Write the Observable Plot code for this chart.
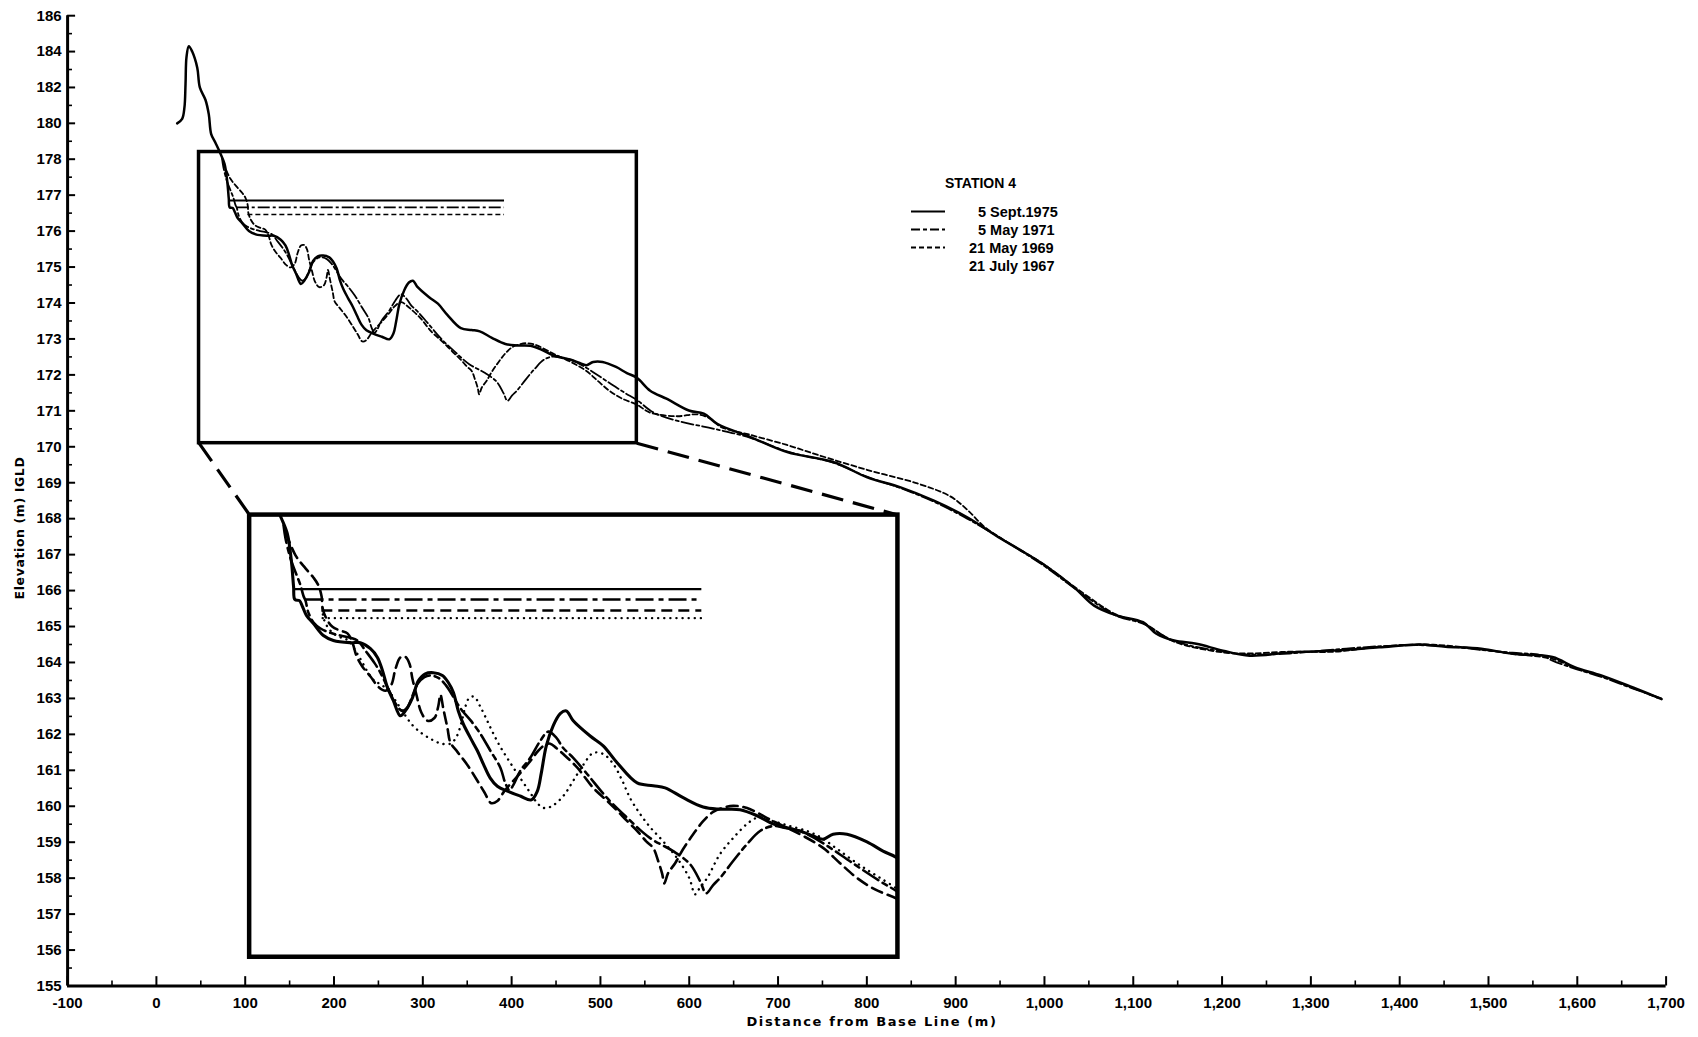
<!DOCTYPE html>
<html><head><meta charset="utf-8">
<script src="https://cdn.jsdelivr.net/npm/d3@7"></script>
<script src="https://cdn.jsdelivr.net/npm/@observablehq/plot@0.6"></script>
<style>
body{margin:0;background:#fff;}
#wrap{position:relative;width:1698px;height:1037px;overflow:hidden;background:#fff;}
#wrap svg{position:absolute;left:0;top:0;}
</style></head><body><div id="wrap"></div>
<script>
// ---------- tick values ----------
const xMajor = [-100,0,100,200,300,400,500,600,700,800,900,1000,1100,1200,1300,1400,1500,1600,1700];
const xMinor = [-50,50,150,250,350,450,550,650,750,850,950,1050,1150,1250,1350,1450,1550,1650];
const yMajor = [155,156,157,158,159,160,161,162,163,164,165,166,167,168,169,170,171,172,173,174,175,176,177,178,180,182,184,186];
const yMinor = [155.5,156.5,157.5,158.5,159.5,160.5,161.5,162.5,163.5,164.5,165.5,166.5,167.5,168.5,169.5,170.5,171.5,172.5,173.5,174.5,175.5,176.5,177.5,179,181,183,185];

// ---------- survey names ----------
const surveys = ["5 Sept.1975","5 May 1971","21 May 1969","21 July 1967"];

// ---------- profiles: [distance (m), elevation (m IGLD)] ----------
const profile1975 = [
 [23.4,180.0],[29,180.25],[31.6,180.9],[32.8,182.2],[33.9,183.7],[36.5,184.3],[40.3,184.0],[46,183.1],[48.9,182.0],[55.3,181.3],[59,180.5],[61.7,179.4],[66.6,178.9],[72.2,178.3],[76.7,177.87],[79.7,177.4],[81.5,176.9],
 [82.5,176.66],[86,176.64],[88.3,176.53],[91.3,176.37],[96.6,176.22],[104.2,176.0],[111.8,175.91],[124.7,175.87],[132.3,175.87],[140,175.76],[145.3,175.6],[149.1,175.36],[152.9,175.05],[157.4,174.81],[162.7,174.53],[166.5,174.62],[171.9,174.86],[176.4,175.17],[181.7,175.3],[187.8,175.32],[194.7,175.27],[199.2,175.14],[203,174.96],[206.8,174.62],[210.6,174.38],[215.9,174.13],[221.3,173.89],[225.8,173.65],[231.1,173.39],[236.5,173.24],[244.1,173.15],[253.9,173.06],[262.3,172.99],[266.9,173.15],[269.9,173.48],[273.7,173.98],[279,174.35],[284.3,174.57],[288.9,174.62],[294.2,174.44],[307.1,174.16],[317,173.98],[327.6,173.67],[342.8,173.3],[355,173.25],[364.1,173.21],[377.8,173.03],[393,172.86],[405.9,172.82],[421.1,172.81],[434,172.7],[446.2,172.55],[456.8,172.48],[466.7,172.42],[476.6,172.33],[484.2,172.27],[491.8,172.36],[502.4,172.36],[517.6,172.22],[529.8,172.05],[541,171.92],
 [556,171.56],[575,171.33],[599.6,171.01],[616.4,170.92],[631.5,170.64],[669,170.27],[710.4,169.85],[762.8,169.57],[800.5,169.15],[838,168.87],[875.5,168.5],[913,168.04],[950.6,167.45],[970.6,167.16],[1000.7,166.7],[1033.3,166.09],[1055.9,165.58],[1081,165.31],[1111,165.12],[1126,164.8],[1146,164.61],[1171,164.52],[1201,164.33],[1231,164.19],[1276.5,164.28],[1326.7,164.33],[1376.8,164.42],[1421.8,164.5],[1451.7,164.44],[1492,164.38],[1527,164.24],[1572,164.15],[1597,163.87],[1627,163.64],[1662,163.31],[1695,162.98]
];
const profile1971 = [
 [73.9,178.04],[75.4,177.78],[79.2,177.41],[83.0,177.16],[86.8,176.92],[89.0,176.73],[90.6,176.64],[92.8,176.42],[96.7,176.24],[102.0,176.13],[109.6,176.05],[117.2,176.0],[124.8,175.96],[130.1,175.91],[136.9,175.7],[143,175.5],[148,175.3],[152,175.1],[156,174.9],[160,174.72],[164,174.62],[168,174.68],[172,174.9],[176,175.12],[181,175.24],[186,175.27],[192,175.22],[197,175.1],[202,174.92],[206.1,174.75],[210.6,174.6],[216,174.45],[223.6,174.2],[231.2,173.89],[238.8,173.58],[242.5,173.3],[245.6,173.17],[248.6,173.26],[253.9,173.52],[261.5,173.76],[269.1,174.07],[275.2,174.24],[281.3,174.13],[286.6,173.94],[294.2,173.76],[304.9,173.46],[320.1,173.02],[335.3,172.66],[352.7,172.29],[370.2,172.05],[383.1,171.81],[390.7,171.5],[395.3,171.28],[400.6,171.43],[405.9,171.56],[415.8,171.87],[426.4,172.18],[436.3,172.42],[446.2,172.51],[456.8,172.47],[466.7,172.42],[481.9,172.23],[497.1,171.99],[512.3,171.74],[527.5,171.5],[541.2,171.3],
 [560,170.95],[587,170.72],[628,170.5],[669,170.25],[710,169.87],[763,169.55],[800,169.17],[838,168.85],[875,168.48],[913,168.0],[951,167.45],[1000,166.68],[1034,166.06],[1081,165.3],[1111,165.08],[1146,164.6],[1201,164.3],[1231,164.22],[1276,164.25],[1327,164.36],[1377,164.45],[1422,164.48],[1452,164.45],[1492,164.35],[1527,164.27],[1560,164.2],[1572,164.05],[1597,163.83],[1627,163.6],[1662,163.28],[1695,163.0]
];
const profile1969 = [
 [75.4,177.89],[83.0,177.47],[90.6,177.23],[96.7,177.06],[100.4,176.92],[102.8,176.72],[103.6,176.5],[106.5,176.31],[111.1,176.16],[117.2,176.09],[122.5,176.04],[126.3,175.87],[129.3,175.63],[133.9,175.43],[140,175.25],[146,175.06],[151.4,174.99],[155.9,175.1],[159,175.39],[162.8,175.6],[166.6,175.61],[169.6,175.49],[171.9,175.21],[174.9,174.92],[178.7,174.59],[183.3,174.44],[188.6,174.49],[191.6,174.71],[193.2,174.92],[195.4,174.66],[198.5,174.31],[200.8,174.04],[206.1,173.87],[213.7,173.63],[221.3,173.34],[226.6,173.13],[231.9,172.93],[236.5,172.97],[241.8,173.15],[247.1,173.3],[253.9,173.48],[261.5,173.7],[267.6,173.89],[272.9,174.0],[276.7,174.02],[281.3,173.94],[286.6,173.83],[297.3,173.58],[309.4,173.21],[320.1,172.97],[327.7,172.79],[335.3,172.6],[342.9,172.42],[349.7,172.23],[355,172.11],[358.8,171.87],[361.9,171.63],[363.4,171.46],[366.4,171.65],[371.7,171.83],[377.8,172.09],[385.4,172.36],[393,172.6],[400.6,172.77],[407.5,172.84],[415.8,172.88],[426.4,172.84],[446.2,172.6],[466.7,172.36],[484.2,172.11],[497.1,171.83],[510,171.56],[523.7,171.35],[541.2,171.17],
 [556,170.95],[586,170.85],[609,170.9],[624,170.78],[635,170.56],[669,170.33],[710,170.05],[744,169.78],[800,169.36],[857,168.98],[894,168.62],[913,168.25],[932,167.78],[951,167.46],[1000,166.72],[1034,166.1],[1081,165.33],[1111,165.1],[1146,164.58],[1201,164.28],[1231,164.25],[1276,164.3],[1327,164.3],[1377,164.44],[1422,164.5],[1452,164.47],[1492,164.36],[1527,164.24],[1572,164.1],[1597,163.85],[1627,163.62],[1662,163.3],[1690,163.02]
];
const profile1967 = [
 [103.5,176.5],[104.2,176.33],[107.3,176.16],[111.8,176.04],[117.9,175.96],[123.2,175.91],[128.6,175.72],[133.1,175.54],[137.7,175.34],[143,175.17],[148.3,175.1],[153.6,174.99],[159,174.81],[165,174.59],[171.9,174.36],[179.5,174.2],[187.1,174.09],[193.9,174.02],[200.8,174.02],[205.3,174.14],[209.1,174.4],[212.2,174.7],[215.2,174.86],[219,174.88],[222.8,174.73],[227.4,174.51],[232.7,174.24],[238.8,173.96],[246.3,173.67],[253.9,173.39],[261.5,173.12],[267.6,172.91],[272.2,172.84],[278.3,172.88],[286.6,173.06],[294.2,173.34],[301.8,173.63],[309.4,173.85],[317,173.83],[324.6,173.65],[331.5,173.34],[337.5,173.02],[345.1,172.73],[352.7,172.49],[362.6,172.23],[373.3,171.92],[382.4,171.56],[386.9,171.26],[390.7,171.39],[396.1,171.56],[405.9,172.0],[415.8,172.29],[426.4,172.55],[434,172.66],[446.2,172.6],[459.1,172.51],[472,172.42],[481.9,172.31],[493.3,172.12],[504.7,171.92],[516.9,171.72],[529,171.54],[541.2,171.35]
];

// ---------- still-water levels at survey time ----------
const levelElev  = [176.85, 176.66, 176.46, 176.32];
const levelStart = [82, 91, 103, 104];
const levelEnd   = [392, 392, 392, 392];

// ---------- enlargement boxes (distance, elevation) ----------
const zoomBoxX  = [48, 541];
const zoomBoxY  = [170.1, 178.4];
const insetBoxX = [105, 835];
const insetBoxY = [155.8, 168.1];

// ---------- styles ----------
const NUMFONT = "'Liberation Sans', Arial, sans-serif";
const mainStyle = [
  {strokeWidth: 2.5},
  {strokeWidth: 1.8, strokeDasharray: "12,3,3,3"},
  {strokeWidth: 1.8, strokeDasharray: "5,3"},
  null
];
const insetStyle = [
  {strokeWidth: 3.1},
  {strokeWidth: 2.6, strokeDasharray: "18,5,5,5"},
  {strokeWidth: 2.6, strokeDasharray: "11,6"},
  {strokeWidth: 2.4, strokeDasharray: "0.1,6", strokeLinecap: "round"}
];
const profiles = [profile1975, profile1971, profile1969, profile1967];
const levels = surveys.map((s, i) => ({i, y: levelElev[i], x1: levelStart[i], x2: levelEnd[i]}));
const fmt = d => d.toLocaleString("en-US");
const X = d => d[0], Y = d => d[1];

const wrap = document.getElementById("wrap");

// ---------- main chart ----------
const mainMarks = [
  Plot.ruleY([155], {x1: -100, x2: 1700, strokeWidth: 3}),
  Plot.ruleX([-100], {y1: 155, y2: 186, strokeWidth: 3}),
  Plot.ruleX(xMajor, {x: d => d, y1: 155, y2: 155.26, strokeWidth: 2}),
  Plot.ruleX(xMinor, {x: d => d, y1: 155, y2: 155.14, strokeWidth: 1.6}),
  Plot.ruleY(yMajor, {y: d => d, x1: -100, x2: -91, strokeWidth: 2}),
  Plot.ruleY(yMinor, {y: d => d, x1: -100, x2: -94.5, strokeWidth: 1.6}),
  Plot.text(xMajor, {x: d => d, y: 155, dy: 17, text: fmt, fontFamily: NUMFONT, fontSize: 15, fontWeight: "bold", fill: "black"}),
  Plot.text(yMajor, {x: -100, y: d => d, dx: -6, textAnchor: "end", text: d => String(d), fontFamily: NUMFONT, fontSize: 15, fontWeight: "bold", fill: "black"}),
  Plot.rect([{x1: zoomBoxX[0], x2: zoomBoxX[1], y1: zoomBoxY[0], y2: zoomBoxY[1]}], {x1: "x1", x2: "x2", y1: "y1", y2: "y2", fill: "none", stroke: "black", strokeWidth: 3.5}),
  Plot.rect([{x1: insetBoxX[0], x2: insetBoxX[1], y1: insetBoxY[0], y2: insetBoxY[1]}], {x1: "x1", x2: "x2", y1: "y1", y2: "y2", fill: "white", stroke: "black", strokeWidth: 4.5}),
  Plot.link([
    {x1: zoomBoxX[0], y1: zoomBoxY[0], x2: insetBoxX[0], y2: insetBoxY[1]},
    {x1: zoomBoxX[1], y1: zoomBoxY[0], x2: insetBoxX[1], y2: insetBoxY[1]}
  ], {x1: "x1", y1: "y1", x2: "x2", y2: "y2", stroke: "black", strokeWidth: 3.2, strokeDasharray: "22,10"})
];
[2, 1, 0].forEach(i => {
  mainMarks.push(Plot.ruleY(levels.filter(l => l.i === i), {y: "y", x1: "x1", x2: "x2", stroke: "black", ...mainStyle[i], strokeWidth: i === 0 ? 1.9 : 1.6}));
  mainMarks.push(Plot.line(profiles[i], {x: X, y: Y, curve: "catmull-rom", stroke: "black", strokeLinejoin: "round", ...mainStyle[i]}));
});

const main = Plot.plot({
  width: 1698, height: 1037,
  x: {type: "linear", domain: [-100, 1700], range: [67.1, 1665.6], axis: null},
  y: {type: "linear", domain: [155, 178, 186], range: [985.5, 158.7, 15.2], axis: null},
  style: {background: "transparent", overflow: "visible"},
  marks: mainMarks
});
wrap.appendChild(main);

// ---------- enlarged inset, positioned with the main scales ----------
const xs = main.scale("x"), ys = main.scale("y");
const sx = d3.scaleLinear().domain(xs.domain).range(xs.range);
const sy = d3.scaleLinear().domain(ys.domain).range(ys.range);
const L = sx(insetBoxX[0]), R = sx(insetBoxX[1]);
const T = sy(insetBoxY[1]), B = sy(insetBoxY[0]);
const iw = R - L, ih = B - T;
const upTop = sy(zoomBoxY[1]), upBot = sy(zoomBoxY[0]), up178 = sy(178);
const r178 = ih * (up178 - upTop) / (upBot - upTop);

const insetMarks = [];
[3, 2, 1, 0].forEach(i => {
  insetMarks.push(Plot.ruleY(levels.filter(l => l.i === i), {y: "y", x1: "x1", x2: "x2", stroke: "black", clip: true, ...insetStyle[i], strokeWidth: i === 0 ? 2.2 : insetStyle[i].strokeWidth}));
  insetMarks.push(Plot.line(profiles[i], {x: X, y: Y, curve: "catmull-rom", stroke: "black", strokeLinejoin: "round", clip: true, ...insetStyle[i]}));
});
const inset = Plot.plot({
  width: iw, height: ih, margin: 0,
  x: {type: "linear", domain: zoomBoxX, range: [0, iw], axis: null},
  y: {type: "linear", domain: [zoomBoxY[0], 178, zoomBoxY[1]], range: [ih, r178, 0], axis: null},
  style: {background: "transparent", overflow: "hidden"},
  marks: insetMarks
});
inset.style.left = L + "px";
inset.style.top = T + "px";
wrap.appendChild(inset);

// ---------- titles and legend ----------
const ov = d3.create("svg").attr("width", 1698).attr("height", 1037)
  .style("pointer-events", "none")
  .attr("font-family", "'DejaVu Sans', 'Liberation Sans', sans-serif")
  .attr("font-weight", "bold");
ov.append("text").attr("x", 872).attr("y", 1026).attr("text-anchor", "middle")
  .attr("font-size", 13).attr("letter-spacing", 1.6).text("Distance from Base Line (m)");
ov.append("text").attr("transform", "translate(24,528) rotate(-90)").attr("text-anchor", "middle")
  .attr("font-size", 12.5).attr("letter-spacing", 0.6).text("Elevation (m) IGLD");
ov.append("text").attr("x", 945).attr("y", 188).attr("font-family", NUMFONT)
  .attr("font-size", 14).text("STATION 4");
const rowY = [211.5, 229.5, 247.5, 265.5];
const legendDash = [null, "9,3,4,3", "5,3", null];
const textX = [978, 978, 969, 969];
surveys.forEach((s, i) => {
  if (i < 3) {
    ov.append("line").attr("x1", 911).attr("x2", 945).attr("y1", rowY[i]).attr("y2", rowY[i])
      .attr("stroke", "black").attr("stroke-width", 2).attr("stroke-dasharray", legendDash[i]);
  }
  ov.append("text").attr("x", textX[i]).attr("y", rowY[i] + 5).attr("font-family", NUMFONT)
    .attr("font-size", 14.5).text(s);
});
wrap.appendChild(ov.node());
</script></body></html>
